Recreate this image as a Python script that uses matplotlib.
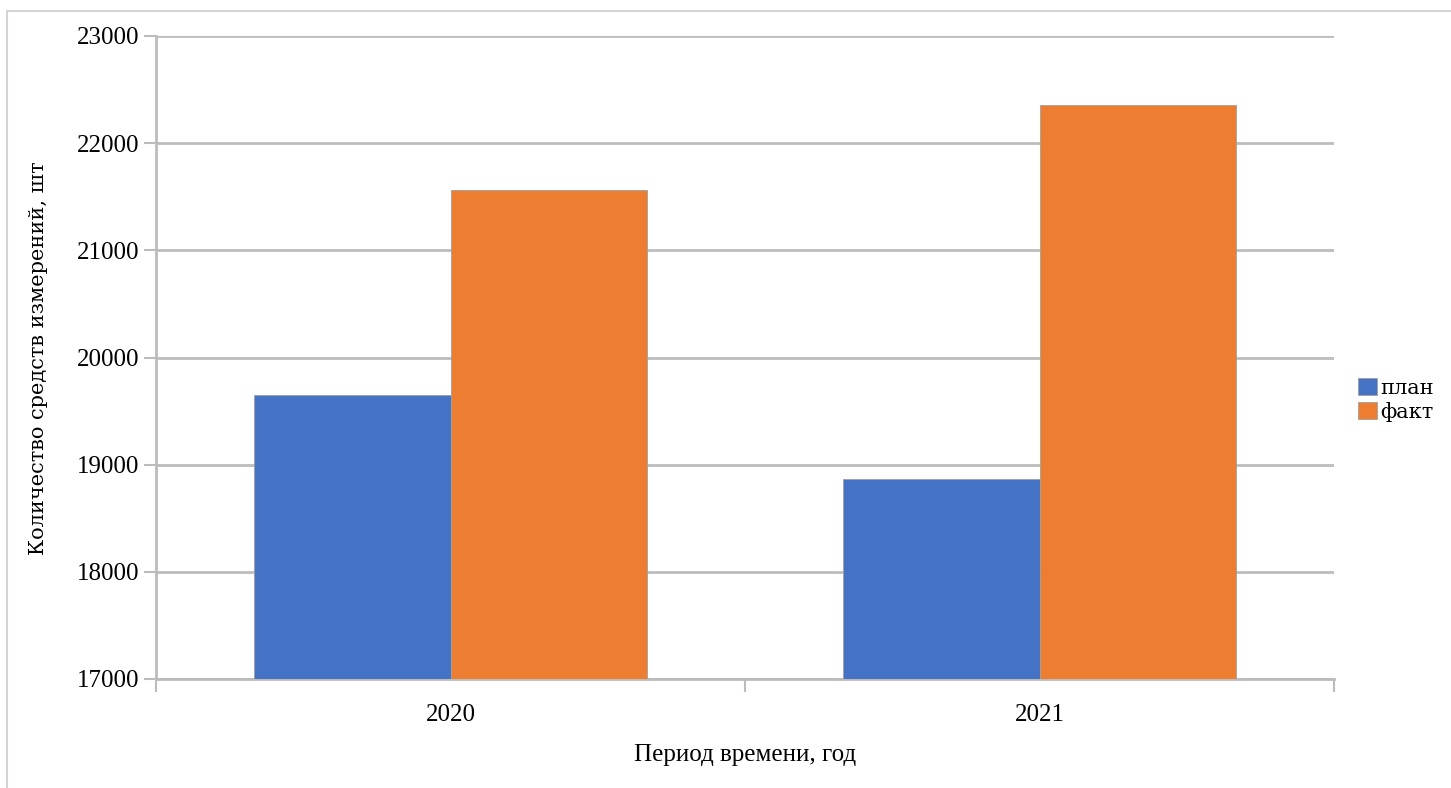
import matplotlib
matplotlib.use("Agg")
import matplotlib.pyplot as plt
import numpy as np
from matplotlib.patches import Rectangle

categories = ["2020", "2021"]
series_names = ["план", "факт"]
plan = [19650, 18865]
fact = [21560, 22360]
yticks = [17000, 18000, 19000, 20000, 21000, 22000, 23000]

plt.rcParams['font.family'] = ['Liberation Serif', 'DejaVu Serif']
slab = ['DejaVu Serif']

W, H = 1451, 788
fig = plt.figure(figsize=(W/100, H/100), dpi=100)
fig.patch.set_facecolor('white')

# outer border (left and top visible only)
fig.add_artist(Rectangle((7/W, -0.05), 1.0, 1.05 - 11/H, transform=fig.transFigure,
                         fill=False, edgecolor='#d4d4d4', linewidth=1.5, clip_on=False))

ax = fig.add_axes([156/W, 1 - 679/H, (1334-156)/W, (679-36)/H])

x = np.arange(len(categories))
bw = 1/3
gray = '#bcbcbc'
ax.bar(x - bw/2, plan, bw, color='#4472C4', edgecolor='#a0a0a0', linewidth=0.6,
       label=series_names[0], zorder=3)
ax.bar(x + bw/2, fact, bw, color='#ED7D31', edgecolor='#a0a0a0', linewidth=0.6,
       label=series_names[1], zorder=3)

ax.set_xlim(-0.5, 1.5)
ax.set_ylim(17000, 23000)
ax.set_yticks(yticks)
ax.set_yticklabels([str(v) for v in yticks])
ax.yaxis.grid(True, color=gray, linewidth=2, zorder=0)
ax.set_axisbelow(True)

ax.set_xticks(x)
ax.set_xticklabels(categories)
ax.set_xticks([-0.5, 0.5, 1.5], minor=True)
ax.tick_params(axis='x', which='major', length=0, pad=18, labelsize=18)
ax.tick_params(axis='x', which='minor', length=9, width=1.5, color=gray, direction='out')
ax.tick_params(axis='y', length=9, width=1.5, color=gray, labelsize=18, pad=3)

for s in ['top', 'right']:
    ax.spines[s].set_visible(False)
for s in ['left', 'bottom']:
    ax.spines[s].set_color(gray)
    ax.spines[s].set_linewidth(2)

ax.set_ylabel("Количество средств измерений, шт", fontsize=15, family=slab)
ax.yaxis.set_label_coords(48/W, 1 - 358/H, transform=fig.transFigure)
ax.set_xlabel("Период времени, год", fontsize=18, labelpad=13)

leg = fig.legend(loc='center left', bbox_to_anchor=(1358/W, 1 - 400/H), frameon=False,
                 prop={'family': slab, 'size': 15}, handlelength=0.9, handleheight=0.9,
                 handletextpad=0.15, labelspacing=0.2, borderpad=0, borderaxespad=0)

fig.savefig("out.png", dpi=100, facecolor='white')
